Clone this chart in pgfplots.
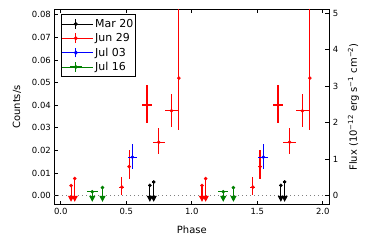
\documentclass[border=0pt]{standalone}
\usepackage{fontspec}
\setmainfont{DejaVu Sans}
\usepackage{pgfplots}
\pgfplotsset{compat=1.18}
\usetikzlibrary{arrows.meta}
\pgfplotstableread{
x y ex eyp eym
0.466 0.0037 0.020 0.0044 0.0034
0.521 0.0128 0.012 0.0074 0.0055
0.658 0.0401 0.035 0.0089 0.0078
0.747 0.0236 0.047 0.0062 0.0053
0.845 0.0375 0.050 0.0074 0.0070
0.901 0.0520 0.000 0.0500 0.0230
1.466 0.0037 0.020 0.0044 0.0034
1.521 0.0128 0.012 0.0074 0.0055
1.658 0.0401 0.035 0.0089 0.0078
1.747 0.0236 0.047 0.0062 0.0053
1.845 0.0375 0.050 0.0074 0.0070
1.901 0.0520 0.000 0.0500 0.0230
}\reddet
\pgfplotstableread{
x y ex eyp eym
0.547 0.0170 0.038 0.0059 0.0053
1.547 0.0170 0.038 0.0059 0.0053
}\bluedet
\pgfplotstableread{
x y ex
0.078 0.0044 0.000
0.106 0.0075 0.000
1.078 0.0044 0.000
1.106 0.0075 0.000
}\redul
\pgfplotstableread{
x y ex
0.240 0.0017 0.040
0.318 0.0035 0.012
1.240 0.0017 0.040
1.318 0.0035 0.012
}\greenul
\pgfplotstableread{
x y ex
0.680 0.0045 0.012
0.709 0.0060 0.012
1.680 0.0045 0.012
1.709 0.0060 0.012
}\blackul
\definecolor{mgreen}{rgb}{0,0.5,0}
\begin{document}
\begin{tikzpicture}
\path[use as bounding box] (0,0) rectangle (371bp,249bp);
\pgfplotsset{
  common/.style={
    at={(54.3bp,44bp)}, anchor=south west, scale only axis,
    width=275bp, height=196bp,
    xmin=-0.05, xmax=2.05,
    tick align=inside, major tick length=4bp,
    every tick/.style={black, line width=0.8bp},
    axis line style={line width=1bp},
    tick label style={font=\fontsize{8.5}{10}\selectfont},
    /pgf/number format/assume math mode=true,
    label style={font=\fontsize{10}{12}\selectfont},
  },
  errs/.style={only marks, mark=*, mark size=1.6bp, forget plot,
    error bars/.cd, x dir=both, x explicit, y dir=both, y explicit,
    error mark=none, error bar style={line width=1.1bp}},
  ulim/.style={only marks, mark=*, mark size=1.6bp, forget plot,
    error bars/.cd, x dir=both, x explicit, error mark=none,
    error bar style={line width=1.1bp}},
  arr/.style={forget plot, line width=1.1bp, -{Triangle[width=6bp,length=6bp]},
    quiver={u=0, v={-(\thisrow{y}+0.0028)}}},
}
\begin{axis}[common,
  ymin=-0.0042, ymax=0.0826,
  xtick={0,0.5,1,1.5,2}, xtick pos=both,
  ytick={0,0.01,...,0.08}, ytick pos=left,
  scaled y ticks=false,
  xticklabel style={/pgf/number format/.cd, fixed, fixed zerofill, precision=1},
  yticklabel style={/pgf/number format/.cd, fixed, fixed zerofill, precision=2},
  xlabel={Phase}, ylabel={Counts/s},
  xlabel shift=4bp, ylabel shift=4bp,
  legend style={at={(0.024,0.973)}, anchor=north west, draw=black, line width=0.9bp,
    font=\fontsize{11}{13}\selectfont, cells={anchor=west}, row sep=1.6bp,
    inner xsep=0bp, inner ysep=3bp,
    nodes={inner ysep=1.5bp}},
  legend image code/.code={
    \path (-4bp,0bp) -- (27bp,0bp);
    \draw[line width=1.1bp] (10bp,-4.8bp) -- (10bp,4.8bp);
    \draw[line width=1.1bp] (4.2bp,0bp) -- (15.8bp,0bp);
    \fill (10bp,0bp) circle (1.5bp);},
]
\addlegendimage{black}\addlegendentry{Mar 20}
\addlegendimage{red}\addlegendentry{Jun 29}
\addlegendimage{blue}\addlegendentry{Jul 03}
\addlegendimage{mgreen}\addlegendentry{Jul 16}
\addplot[forget plot, gray, line width=0.8bp, dash pattern=on 1bp off 3bp] coordinates {(-0.05,0) (2.05,0)};
\addplot[red, errs] table[x=x, y=y, x error=ex, y error plus=eyp, y error minus=eym] {\reddet};
\addplot[blue, errs] table[x=x, y=y, x error=ex, y error plus=eyp, y error minus=eym] {\bluedet};
\addplot[red, arr] table[x=x, y=y] {\redul};
\addplot[red, ulim] table[x=x, y=y, x error=ex] {\redul};
\addplot[mgreen, arr] table[x=x, y=y] {\greenul};
\addplot[mgreen, ulim] table[x=x, y=y, x error=ex] {\greenul};
\addplot[black, arr] table[x=x, y=y] {\blackul};
\addplot[black, ulim] table[x=x, y=y, x error=ex] {\blackul};
\end{axis}
\begin{axis}[common,
  axis x line=none, axis y line*=right,
  ymin=-0.26, ymax=5.115,
  ytick={0,1,2,3,4,5}, ytick pos=right,
  ylabel shift=3bp,
  ylabel={Flux (10\textsuperscript{−12} erg s\textsuperscript{−1} cm\textsuperscript{−2})},
]
\addplot[draw=none, forget plot] coordinates {(0,0)};
\end{axis}
\end{tikzpicture}
\end{document}
